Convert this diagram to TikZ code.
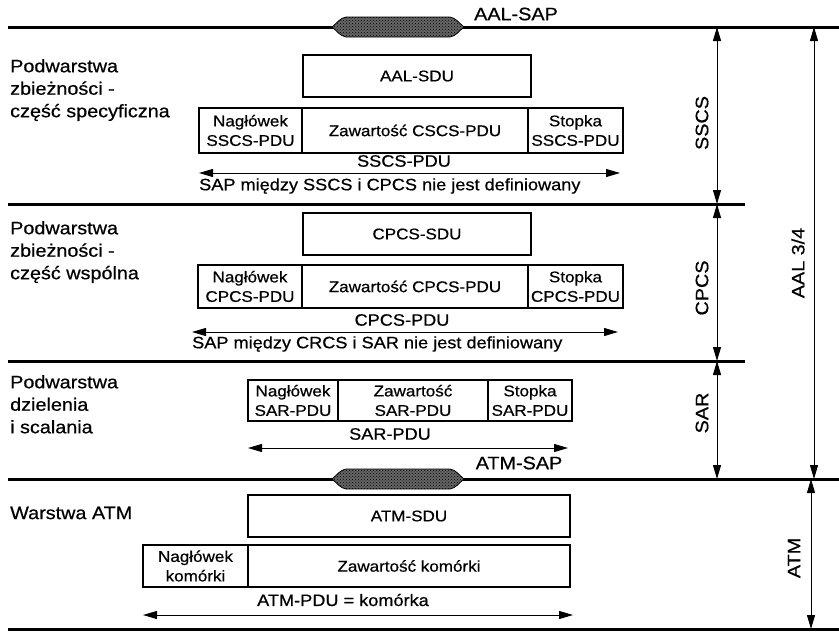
\documentclass[tikz,border=0pt]{standalone}
\usepackage{fontspec}
\setmainfont[FakeStretch=1.1,FakeBold=0.6]{Liberation Sans}
\usetikzlibrary{arrows.meta,patterns}
\newcommand{\flab}{\fontsize{18}{22.5}\selectfont}
\newcommand{\fcell}{\fontsize{15.5}{19.5}\selectfont}
\newcommand{\fpdu}{\fontsize{16.5}{20}\selectfont}
\begin{document}
\begin{tikzpicture}[x=1pt,y=-1pt,
  layer/.style={line width=3pt},
  cell/.style={draw, line width=1.1pt, inner sep=0pt, align=center, font=\fcell},
  lbl/.style={inner sep=0pt, align=left, font=\flab},
  pdu/.style={inner sep=0pt, font=\fpdu},
  dbl/.style={line width=1pt, {Triangle[length=14pt,width=8pt]}-{Triangle[length=14pt,width=8pt]}},
  sap/.style={draw=black, line width=0.8pt, fill=black!60, postaction={pattern=crosshatch dots, pattern color=black}},
  side/.style={inner sep=0pt, font=\flab, rotate=90}
]
\useasboundingbox (0,0) rectangle (839,637);

% layer boundary lines
\coordinate (L1a) at (8,27);  \coordinate (L1b) at (839,27);
\coordinate (L2a) at (8,204); \coordinate (L2b) at (745,204);
\coordinate (L3a) at (8,361); \coordinate (L3b) at (745,361);
\coordinate (L4a) at (8,479); \coordinate (L4b) at (839,479);
\coordinate (L5a) at (8,629); \coordinate (L5b) at (839,629);
\draw[layer] (L1a) -- (L1b);
\draw[layer] (L2a) -- (L2b);
\draw[layer] (L3a) -- (L3b);
\draw[layer] (L4a) -- (L4b);
\draw[layer] (L5a) -- (L5b);

% SAP shapes
\draw[sap] (332,27) .. controls (337,23) and (340,18) .. (346,17) -- (450,17) .. controls (456,18) and (459,23) .. (464,27) .. controls (459,31) and (456,36) .. (450,37) -- (346,37) .. controls (340,36) and (337,31) .. cycle;
\draw[sap] (332,479) .. controls (337,475) and (340,470) .. (346,469) -- (450,469) .. controls (456,470) and (459,475) .. (464,479) .. controls (459,483) and (456,488) .. (450,489) -- (346,489) .. controls (340,488) and (337,483) .. cycle;
\node[pdu, font=\flab] (aalsap) at (516,14) {AAL-SAP};
\node[pdu, font=\flab] (atmsap) at (519,463) {ATM-SAP};

% left labels
\node[lbl, anchor=north west] (t1) at (10,59) {Podwarstwa\\zbieżności -\\część specyficzna};
\node[lbl, anchor=north west] (t2) at (10,221) {Podwarstwa\\zbieżności -\\część wspólna};
\node[lbl, anchor=north west] (t3) at (10,375) {Podwarstwa\\dzielenia\\i scalania};
\node[lbl, anchor=west] (t4) at (10,513) {Warstwa ATM};

% SSCS
\node[cell, minimum width=228pt, minimum height=42pt] (aalsdu) at (417,76) {AAL-SDU};
\node[cell, minimum width=103pt, minimum height=45pt] (nag1) at (250.5,130.5) {Nagłówek\\SSCS-PDU};
\node[cell, minimum width=226pt, minimum height=45pt] (zaw1) at (415,130.5) {Zawartość CSCS-PDU};
\node[cell, minimum width=95pt, minimum height=45pt] (sto1) at (575.5,130.5) {Stopka\\SSCS-PDU};
\coordinate (a1l) at (199,173); \coordinate (a1r) at (620,173);
\draw[dbl] (a1l) -- (a1r);
\node[pdu] (p1) at (404,161) {SSCS-PDU};
\node[pdu, anchor=west] (s1) at (199,186) {SAP między SSCS i CPCS nie jest definiowany};

% CPCS
\node[cell, minimum width=228pt, minimum height=42pt] (cpcssdu) at (417,234) {CPCS-SDU};
\node[cell, minimum width=104pt, minimum height=43pt] (nag2) at (250,286.5) {Nagłówek\\CPCS-PDU};
\node[cell, minimum width=226pt, minimum height=43pt] (zaw2) at (415,286.5) {Zawartość CPCS-PDU};
\node[cell, minimum width=95pt, minimum height=43pt] (sto2) at (575.5,286.5) {Stopka\\CPCS-PDU};
\coordinate (a2l) at (192,332); \coordinate (a2r) at (618,332);
\draw[dbl] (a2l) -- (a2r);
\node[pdu] (p2) at (402,320) {CPCS-PDU};
\node[pdu, anchor=west] (s2) at (192,344) {SAP między CRCS i SAR nie jest definiowany};

% SAR
\node[cell, minimum width=90pt, minimum height=41pt] (nag3) at (293,400.5) {Nagłówek\\SAR-PDU};
\node[cell, minimum width=150pt, minimum height=41pt] (zaw3) at (413,400.5) {Zawartość\\SAR-PDU};
\node[cell, minimum width=84pt, minimum height=41pt] (sto3) at (530,400.5) {Stopka\\SAR-PDU};
\coordinate (a3l) at (248,448); \coordinate (a3r) at (568,448);
\draw[dbl] (a3l) -- (a3r);
\node[pdu] (p3) at (390,434) {SAR-PDU};

% ATM
\node[cell, minimum width=322pt, minimum height=42pt] (atmsdu) at (409,516) {ATM-SDU};
\node[cell, minimum width=105pt, minimum height=42pt] (nag4) at (195.5,566) {Nagłówek\\komórki};
\node[cell, minimum width=322pt, minimum height=42pt] (zaw4) at (409,566) {Zawartość komórki};
\coordinate (a4l) at (143,615); \coordinate (a4r) at (573,615);
\draw[dbl] (a4l) -- (a4r);
\node[pdu] (p4) at (343,600) {ATM-PDU = komórka};

% right side ranges
\coordinate (sx) at (717,0);
\coordinate (ax) at (814,0);
\coordinate (mx) at (811,0);
\draw[dbl] (L1a -| sx) -- (L2a -| sx);
\draw[dbl] (L2a -| sx) -- (L3a -| sx);
\draw[dbl] (L3a -| sx) -- (L4a -| sx);
\draw[dbl] (L1a -| ax) -- (L4a -| ax);
\draw[dbl] (L4a -| mx) -- (L5a -| mx);
\node[side] (rsscs) at (702,123) {SSCS};
\node[side] (rcpcs) at (702,288) {CPCS};
\node[side] (rsar) at (702,413) {SAR};
\node[side] (raal) at (798,263) {AAL 3/4};
\node[side] (ratm) at (794,558) {ATM};
\end{tikzpicture}
\end{document}
